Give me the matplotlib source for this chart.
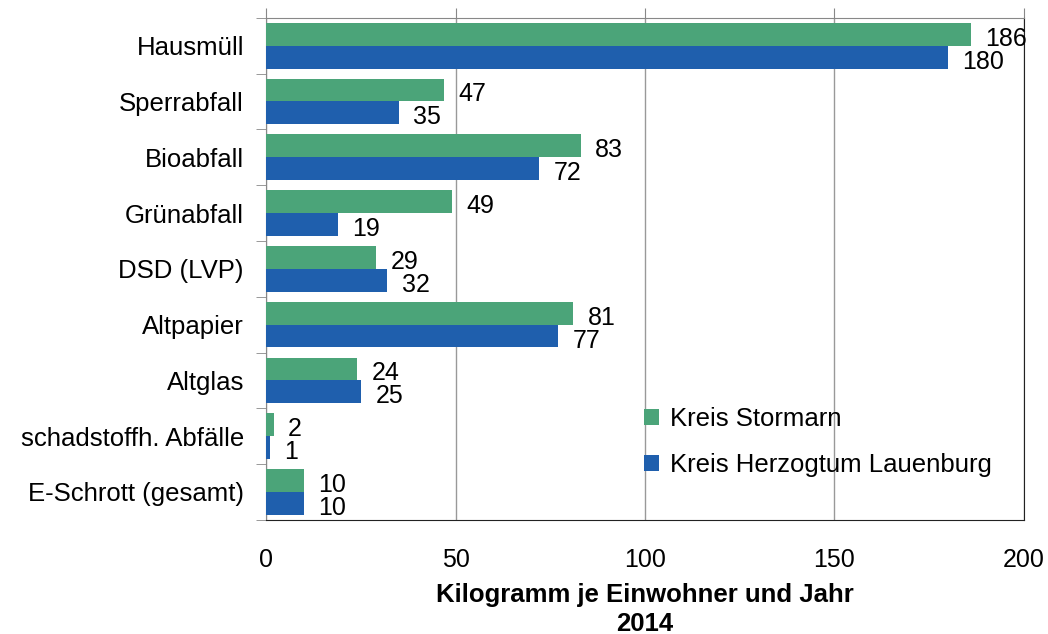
import matplotlib.pyplot as plt
import numpy as np

plt.rcParams['font.family'] = ['Liberation Sans', 'DejaVu Sans']

categories = ["Hausmüll", "Sperrabfall", "Bioabfall", "Grünabfall", "DSD (LVP)",
              "Altpapier", "Altglas", "schadstoffh. Abfälle", "E-Schrott (gesamt)"]
stormarn = [186, 47, 83, 49, 29, 81, 24, 2, 10]
lauenburg = [180, 35, 72, 19, 32, 77, 25, 1, 10]
series_names = ["Kreis Stormarn", "Kreis Herzogtum Lauenburg"]
green = '#4ba479'
blue = '#1f5fad'

fig = plt.figure(figsize=(10.48, 6.34), dpi=100)
ax = fig.add_axes([0.254, 0.180, 0.723, 0.792])

y = np.arange(len(categories))
h = 0.41
ax.barh(y - h / 2, stormarn, height=h, color=green, label=series_names[0], zorder=3)
ax.barh(y + h / 2, lauenburg, height=h, color=blue, label=series_names[1], zorder=3)

for i in range(len(categories)):
    ax.text(stormarn[i] + 3.8, y[i] - h / 2 + 0.08, str(stormarn[i]),
            ha='left', va='center', fontsize=18, zorder=4)
    ax.text(lauenburg[i] + 3.8, y[i] + h / 2 + 0.08, str(lauenburg[i]),
            ha='left', va='center', fontsize=18, zorder=4)

ax.set_ylim(len(categories) - 0.5, -0.5)
ax.set_xlim(0, 200)
ax.set_xticks([0, 50, 100, 150, 200])
ax.set_yticks(y)
ax.set_yticklabels(categories, fontsize=18.5)
ax.set_yticks(np.arange(-0.5, len(categories)), minor=True)
ax.tick_params(axis='y', which='major', length=0, pad=16)
ax.tick_params(axis='y', which='minor', length=7, color='#888888', direction='out')
ax.xaxis.set_ticks_position('top')
ax.xaxis.set_label_position('bottom')
ax.tick_params(axis='x', which='major', length=7, color='#888888', direction='out',
               labelsize=18, pad=13, labelbottom=True, labeltop=False)
ax.grid(axis='x', color='#999999', linewidth=1, zorder=0)

for side in ['top', 'left']:
    ax.spines[side].set_color('#888888')
for side in ['right', 'bottom']:
    ax.spines[side].set_color('#222222')

ax.set_xlabel("Kilogramm je Einwohner und Jahr\n2014", fontsize=18.5,
              fontweight='bold', labelpad=8, linespacing=1.25)

ax.legend(loc='center left', bbox_to_anchor=(0.468, 0.155), frameon=False,
          fontsize=18.5, handlelength=0.6, handleheight=0.6, handletextpad=0.4,
          labelspacing=0.85)

fig.savefig('out.png', dpi=100)
